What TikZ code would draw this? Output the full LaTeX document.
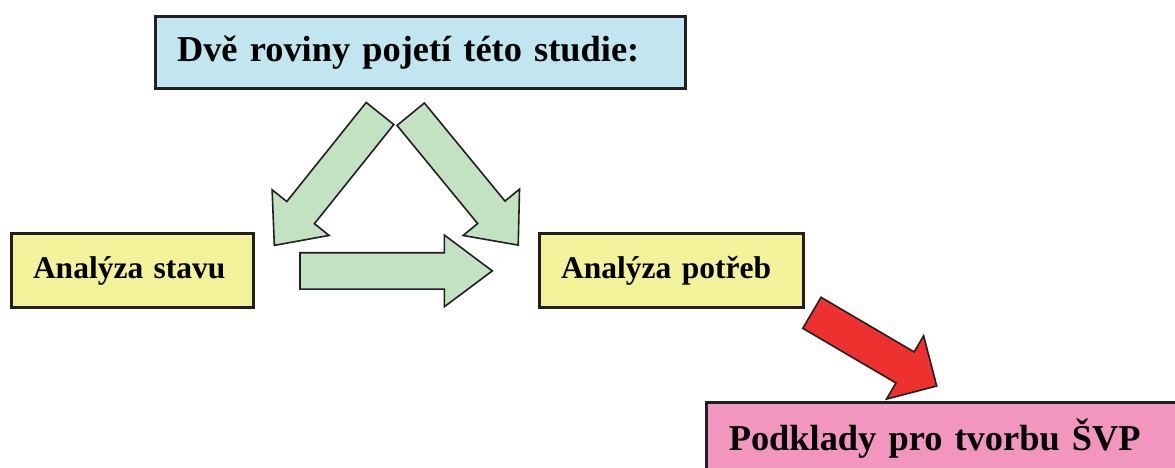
\documentclass[tikz,border=0pt]{standalone}
\usepackage{fontspec}
\setmainfont{Liberation Serif}
\usepackage{tikz}
\usetikzlibrary{shapes,arrows,positioning}
\definecolor{topblue}{HTML}{C2E6EF}
\definecolor{boxyellow}{HTML}{F3F29B}
\definecolor{boxpink}{HTML}{F296BF}
\definecolor{arrowgreen}{HTML}{C3E2C2}
\definecolor{arrowred}{HTML}{EE302E}
\definecolor{edgegray}{HTML}{231F20}
\tikzstyle{box} = [draw=edgegray, line width=3pt, rectangle, inner xsep=22pt, inner ysep=0pt, align=left]
\tikzstyle{bigtext} = [font=\bfseries\fontsize{36.4}{40}\selectfont]
\tikzstyle{midtext} = [font=\bfseries\fontsize{31.5}{36}\selectfont]
\tikzstyle{greenarrow} = [draw=edgegray, line width=1.6pt, fill=arrowgreen, line join=miter]
\tikzstyle{redarrow} = [draw=edgegray, line width=1.6pt, fill=arrowred, line join=miter]

\begin{document}
\begin{tikzpicture}[x=1pt,y=-1pt]
    \useasboundingbox (0,0) rectangle (1175,468);
    \clip (0,0) rectangle (1175,468);

    \node[box, bigtext, fill=topblue, text width=486pt, minimum height=71.6pt] (roviny) at (420,52.5)
        {Dvě roviny pojetí této studie:};
    \node[box, midtext, fill=boxyellow, text width=198pt, minimum height=74pt] (stav) at (132,270.5)
        {Analýza stavu};
    \node[box, midtext, fill=boxyellow, text width=220pt, minimum height=73.5pt] (potreby) at (671.2,270.7)
        {Analýza potřeb};
    \node[box, bigtext, fill=boxpink, text width=450pt, minimum height=73pt] (podklady) at (953.75,438.5)
        {Podklady pro tvorbu ŠVP};

    % block arrows
    \draw[greenarrow, shift={(380,113.5)}, rotate=231.3]
        (0,-17.7) -- (127,-17.7) -- (127,-36.5) -- (169,0) -- (127,36.5) -- (127,17.7) -- (0,17.7) -- cycle;
    \draw[greenarrow, shift={(410.7,114.2)}, rotate=-50.6]
        (0,-17.7) -- (127,-17.7) -- (127,-36.5) -- (169.4,0) -- (127,36.5) -- (127,17.7) -- (0,17.7) -- cycle;
    \draw[greenarrow, shift={(300,270.9)}]
        (0,-18.2) -- (144.3,-18.2) -- (144.3,-35.9) -- (192.3,0) -- (144.3,35.9) -- (144.3,18.2) -- (0,18.2) -- cycle;
    \draw[redarrow, shift={(811.9,312.8)}, rotate=-30.4]
        (0,-18) -- (108,-18) -- (108,-36.7) -- (144.7,0) -- (108,36.7) -- (108,18) -- (0,18) -- cycle;
\end{tikzpicture}
\end{document}
